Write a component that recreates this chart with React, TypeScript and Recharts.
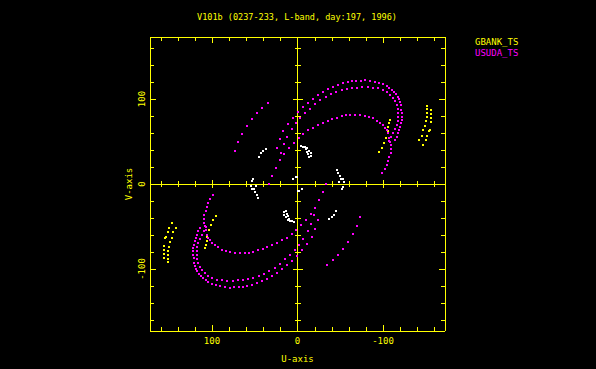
import { ScatterChart, Scatter, XAxis, YAxis, ReferenceLine } from "recharts";

const YEL = "#ffff00";
const MAG = "#ff00ff";
const WHT = "#ffffff";
const FONT = "DejaVu Sans Mono, monospace";

// plot box in page pixels
const BOX = { left: 150, top: 37, right: 445, bottom: 331 };
const CX = (BOX.left + BOX.right) / 2;
const CY = (BOX.top + BOX.bottom) / 2;

const TICKS = [-160, -140, -120, -100, -80, -60, -40, -20, 0, 20, 40, 60, 80, 100, 120, 140, 160];
const LABELLED = [-100, 0, 100];

// USUDA_TS tracks (upper half; conjugates added below)
const usudaOuter: [number, number][] = [
  [24, 42.4], [20.5, 52.9], [17, 62.4], [11.1, 70.6], [5.3, 77.6], [-0.6, 84.7], [-6.4, 90.6],
  [-12.3, 95.3], [-18.1, 100], [-24, 104.7], [-29.8, 108.2], [-35.7, 111.8], [-41.5, 114.1],
  [-47.4, 116.5], [-53.2, 118.8], [-59.1, 120], [-63.7, 121.2], [-68.4, 121.8], [-74.3, 121.8],
  [-78.9, 122.4], [-84.8, 121.8], [-90.6, 120.6], [-95.3, 118.8], [-100, 117.6], [-104.7, 115.3],
  [-107, 112.9], [-110.5, 110.6], [-112.9, 108.2], [-115.2, 105.9], [-117.6, 102.4], [-118.7, 100],
  [-119.9, 96.5], [-120.5, 92.9], [-121.6, 87.1], [-121.9, 83.5], [-121.9, 78.8], [-121.9, 75.3],
  [-120.7, 71.8], [-119.9, 67.1], [-118.4, 63.5], [-117.2, 60], [-116, 55.3], [-114, 51.8],
  [-109.4, 45.9], [-109.9, 41.2], [-108.8, 36.5], [-107, 31.8], [-105.9, 27.1], [-104.3, 22.4],
  [-102.3, 17.6], [-98.8, 12.9],
];
const usudaMiddle: [number, number][] = [
  [33.3, 0], [29.8, 9.4], [25.1, 18.8], [20.5, 28.2], [19.3, 36.5], [15.8, 47.1], [12.3, 55.3],
  [6.4, 64.7], [1.8, 71.8], [-2.9, 77.6], [-8.8, 83.5], [-14.6, 88.2], [-20.5, 94.1], [-26.3, 98.8],
  [-33.3, 102.4], [-39.2, 105.9], [-45, 108.8], [-52, 110.6], [-57.9, 111.8], [-63.7, 112.9],
  [-69.6, 113.5], [-75.4, 114.1], [-82.4, 114.1], [-88.3, 113.5], [-94.2, 112.4], [-100, 110.6],
  [-104.7, 108.2], [-108.2, 104.7], [-111.7, 101.2], [-114, 97.6], [-115.8, 92.9], [-117, 88.2],
  [-117.6, 83.5], [-117.6, 78.8], [-117, 74.1], [-115.8, 69.4], [-114, 64.7], [-111.7, 60],
  [-109.4, 55.3], [-107, 50.6],
];
const usudaInner: [number, number][] = [
  [15.8, 35.3], [9.9, 42.4], [4.1, 48.2], [-1.8, 54.1], [-6.8, 59.2], [-12.3, 63.5], [-18.1, 66.2],
  [-24, 69.4], [-29.8, 72.1], [-35.7, 74.1], [-40.4, 76.1], [-46.2, 78], [-52, 79.6], [-56.7, 80.8],
  [-61.4, 81.2], [-67.3, 81.2], [-73.1, 81.2], [-79, 80.4], [-83.7, 79.2], [-88.3, 77.3], [-93, 74.5],
  [-96.5, 72.1], [-100, 69.4], [-102.3, 66.2], [-104.3, 63.5], [-106.2, 59.6], [-107.4, 54.5],
  [-108.2, 49.8],
];
const usudaDiagonal: [number, number][] = [
  [34.5, 95.3], [41.5, 89.4], [47.4, 83.5], [53.2, 76.5], [59.1, 68.2], [64.9, 58.8], [69.6, 49.4],
  [73.1, 38.8],
];

// GBANK_TS
const gbankFar: [number, number][] = [
  [-151.5, 92.1], [-151.8, 88.2], [-156.1, 87.1], [-151.8, 83.2], [-156.5, 82], [-151.8, 78.5],
  [-156.5, 77.3], [-150.3, 74.1], [-156.1, 72.6], [-148.8, 68.6], [-155, 63.5], [-147.1, 63.5],
  [-153.5, 62.4], [-151.8, 56.8], [-145.3, 56.8], [-150.3, 51.8], [-142.5, 51.8], [-147.1, 45.9],
];
const gbankNear: [number, number][] = [
  [-108.2, 75.3], [-107.4, 71.4], [-106.2, 66.7], [-105.5, 62.4], [-103.5, 53.8], [-101.2, 47.9],
  [-98.5, 42.7], [-95, 38],
];

// other baselines (white)
const others: [number, number][] = [
  [-4.1, 44.7], [-6.1, 43.9], [-8.8, 43.2], [-11.5, 42], [-13.8, 39.2], [-15.4, 36.1], [-15.4, 32.9],
  [-13.8, 31.4], [-9.9, 40.8], [-11.5, 38], [-12.6, 35.3],
  [-45.8, 16.5], [-47.7, 13.3], [-49.7, 9.4], [-50.5, 5.5], [-48.9, 2.7], [-52.9, 5.5], [-54.7, 2.7],
  [-53.6, -3.2], [-51.7, -6.2],
  [4.9, 5.5], [1.8, 7.9], [0.2, 8.6],
  [37.2, 41.2], [40, 38.8], [42.7, 36.1], [44.7, 32.1],
];

const withConj = (pts: [number, number][]) =>
  [...pts, ...pts.map(([u, v]) => [-u, -v] as [number, number])].map(([u, v]) => ({ u, v }));

const usudaData = withConj([...usudaOuter, ...usudaMiddle, ...usudaInner, ...usudaDiagonal]);
const gbankData = withConj([...gbankFar, ...gbankNear]);
const otherData = withConj(others);

const dot = (color: string) => (p: any) => (
  <rect x={Math.round(p.cx) - 1} y={Math.round(p.cy) - 1} width={2} height={2} fill={color} />
);

function XTick(props: any) {
  const { x, payload } = props;
  const v = payload.value;
  const major = v % 100 === 0;
  const len = major ? 6 : 4;
  const c = major ? 4 : 3;
  const px = Math.round(x) + 0.5;
  return (
    <g shapeRendering="crispEdges">
      {v !== 0 && (
        <>
          <line x1={px} x2={px} y1={BOX.bottom} y2={BOX.bottom - len} stroke={YEL} />
          <line x1={px} x2={px} y1={BOX.top} y2={BOX.top + len} stroke={YEL} />
          <line x1={px} x2={px} y1={CY - c} y2={CY + c} stroke={YEL} />
        </>
      )}
      {LABELLED.includes(v) && (
        <text x={x} y={343.5} textAnchor="middle" fill={YEL} fontSize={9} fontFamily={FONT}>
          {String(v)}
        </text>
      )}
    </g>
  );
}

function YTick(props: any) {
  const { y, payload } = props;
  const v = payload.value;
  const major = v % 100 === 0;
  const len = major ? 6 : 4;
  const c = major ? 5 : 3;
  const py = Math.round(y) + 0.5;
  return (
    <g shapeRendering="crispEdges">
      {v !== 0 && (
        <>
          <line x1={BOX.left} x2={BOX.left + len} y1={py} y2={py} stroke={YEL} />
          <line x1={BOX.right} x2={BOX.right - len} y1={py} y2={py} stroke={YEL} />
          <line x1={CX - c} x2={CX + c} y1={py} y2={py} stroke={YEL} />
        </>
      )}
      {LABELLED.includes(v) && (
        <text
          x={145}
          y={y}
          transform={`rotate(-90 145 ${y})`}
          textAnchor="middle"
          fill={YEL}
          fontSize={9}
          fontFamily={FONT}
        >
          {String(v)}
        </text>
      )}
    </g>
  );
}

const AX = { stroke: YEL, strokeWidth: 1, shapeRendering: "crispEdges" } as any;

export default function App() {
  const W = 596;
  const H = 369;
  const xH = 20;
  const tH = 10;
  const yW = 20;
  const rW = 10;
  return (
    <div style={{ position: "absolute", left: 0, top: 0, width: W, height: H, background: "#000" }}>
      <ScatterChart
        width={W}
        height={H}
        margin={{
          top: BOX.top - tH,
          right: W - BOX.right - rW,
          bottom: H - BOX.bottom - xH,
          left: BOX.left - yW,
        }}
      >
        <XAxis
          xAxisId="b"
          orientation="bottom"
          type="number"
          dataKey="u"
          domain={[-172.5, 172.5]}
          reversed
          allowDataOverflow
          ticks={TICKS}
          interval={0}
          tick={<XTick />}
          tickLine={false}
          axisLine={AX}
          height={xH}
        />
        <XAxis
          xAxisId="t"
          orientation="top"
          type="number"
          domain={[-172.5, 172.5]}
          reversed
          allowDataOverflow
          ticks={TICKS}
          tick={false}
          tickLine={false}
          axisLine={AX}
          height={tH}
        />
        <YAxis
          yAxisId="l"
          orientation="left"
          type="number"
          dataKey="v"
          domain={[-173, 173]}
          allowDataOverflow
          ticks={TICKS}
          interval={0}
          tick={<YTick />}
          tickLine={false}
          axisLine={AX}
          width={yW}
        />
        <YAxis
          yAxisId="r"
          orientation="right"
          type="number"
          domain={[-173, 173]}
          allowDataOverflow
          ticks={TICKS}
          tick={false}
          tickLine={false}
          axisLine={AX}
          width={rW}
        />
        <ReferenceLine xAxisId="b" yAxisId="l" x={0} stroke={YEL} strokeWidth={1} shapeRendering="crispEdges" />
        <ReferenceLine xAxisId="b" yAxisId="l" y={0} stroke={YEL} strokeWidth={1} shapeRendering="crispEdges" />
        <Scatter xAxisId="b" yAxisId="l" data={otherData} shape={dot(WHT)} isAnimationActive={false} />
        <Scatter xAxisId="b" yAxisId="l" data={gbankData} shape={dot(YEL)} isAnimationActive={false} />
        <Scatter xAxisId="b" yAxisId="l" data={usudaData} shape={dot(MAG)} isAnimationActive={false} />
        <text x={297} y={20} textAnchor="middle" fill={YEL} fontSize={9} fontFamily={FONT} textLength={200} lengthAdjust="spacingAndGlyphs">
          V101b (0237-233, L-band, day:197, 1996)
        </text>
        <text x={475} y={45} fill={YEL} fontSize={9} fontFamily={FONT}>GBANK_TS</text>
        <text x={475} y={56} fill={MAG} fontSize={9} fontFamily={FONT}>USUDA_TS</text>
        <text x={CX} y={362} textAnchor="middle" fill={YEL} fontSize={9} fontFamily={FONT}>U-axis</text>
        <text x={131.5} y={CY} transform={`rotate(-90 131.5 ${CY})`} textAnchor="middle" fill={YEL} fontSize={9} fontFamily={FONT}>
          V-axis
        </text>
      </ScatterChart>
    </div>
  );
}
